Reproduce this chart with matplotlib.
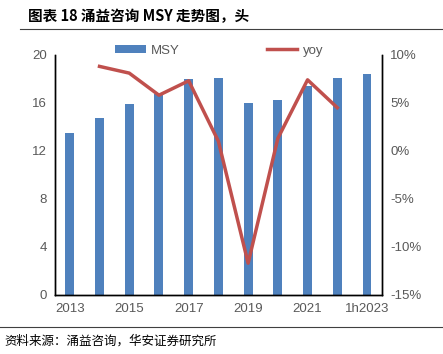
import numpy as np
import matplotlib.pyplot as plt
from matplotlib.ticker import FuncFormatter

plt.rcParams['font.family'] = ['Liberation Sans', 'Noto Sans CJK SC', 'DejaVu Sans']

years = ['2013', '2014', '2015', '2016', '2017', '2018', '2019', '2020', '2021', '2022', '1h2023']
msy = [13.5, 14.7, 15.9, 16.7, 18.0, 18.1, 16.0, 16.2, 17.4, 18.1, 18.4]
yoy_years = years[1:10]
yoy = [8.8, 8.1, 5.8, 7.3, 1.0, -11.7, 1.3, 7.4, 4.5]

blue = '#4F81BD'
red = '#C0504D'
grey = '#595959'

fig = plt.figure(figsize=(4.43, 3.54), dpi=100)
ax = fig.add_axes([0.124, 0.167, 0.738, 0.678])
ax2 = ax.twinx()

x = np.arange(len(years))
ax.bar(x, msy, width=0.3, color=blue, label='MSY', zorder=2)
xi = [years.index(y) for y in yoy_years]
ax2.plot(xi, yoy, color=red, lw=2.5, label='yoy', zorder=3)

ax.set_xlim(-0.5, len(years) - 0.5)
ax.set_ylim(0, 20)
ax.set_yticks(range(0, 21, 4))
ax2.set_ylim(-15, 10)
ax2.set_yticks(range(-15, 11, 5))
ax2.yaxis.set_major_formatter(FuncFormatter(lambda v, p: f'{v:.0f}%'))
ax.set_xticks(x[::2])
ax.set_xticklabels(years[::2])

for a in (ax, ax2):
    a.spines['top'].set_visible(False)
    a.tick_params(length=0, labelsize=9.5, colors=grey, pad=6)
    for s in ('left', 'right', 'bottom'):
        a.spines[s].set_linewidth(1.0)
        a.spines[s].set_color('black')

h1, l1 = ax.get_legend_handles_labels()
h2, l2 = ax2.get_legend_handles_labels()
leg = fig.legend(h1 + h2, l1 + l2, ncol=2, loc='center', bbox_to_anchor=(0.495, 0.857),
                 frameon=False, fontsize=9.5, columnspacing=6.6, handlelength=2.3,
                 handleheight=0.5, handletextpad=0.4)
for t in leg.get_texts():
    t.set_color(grey)

fig.text(0.063, 0.955, '图表 18 涌益咨询 MSY 走势图，头', fontsize=10.5, fontweight='bold',
         family=['Noto Sans CJK SC', 'DejaVu Sans'], va='center')
fig.add_artist(plt.Line2D([0.045, 1.0], [0.918, 0.918], color='#404040', lw=0.8))
fig.add_artist(plt.Line2D([0.0, 1.0], [0.075, 0.075], color='#404040', lw=0.8))
fig.text(0.01, 0.035, '资料来源：涌益咨询，华安证券研究所', fontsize=9,
         family=['Noto Sans CJK SC', 'DejaVu Sans'], va='center')

fig.savefig('out.png', dpi=100)
